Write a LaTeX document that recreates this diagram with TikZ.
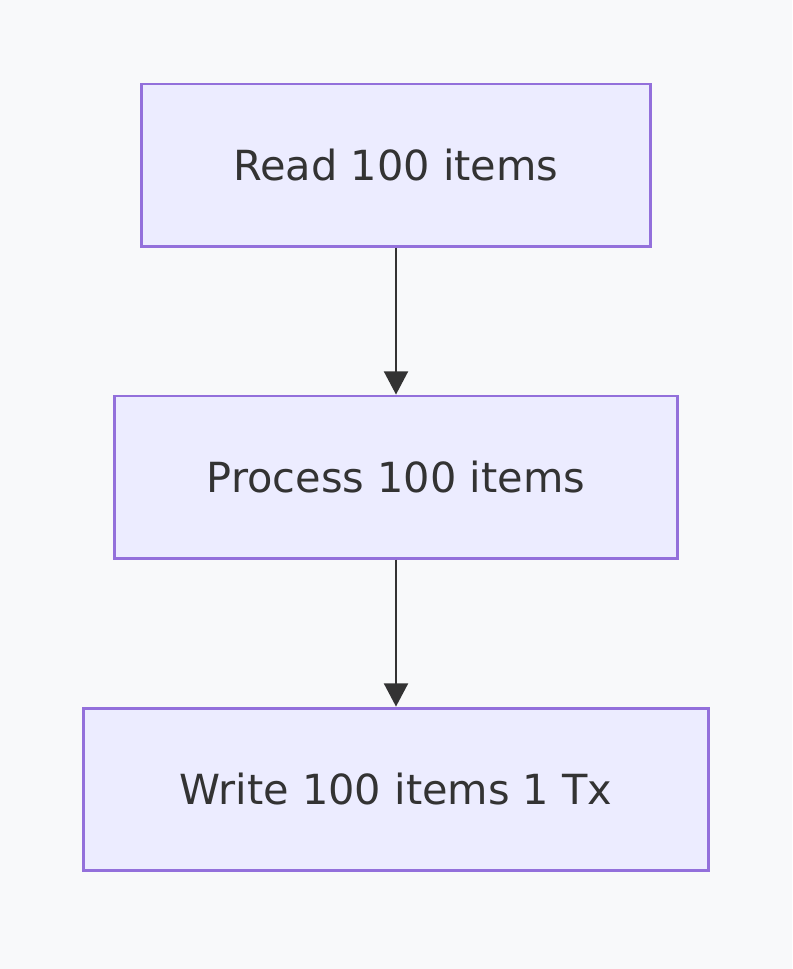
\documentclass[tikz,border=0pt]{standalone}
\usepackage{fontspec}
\setmainfont{DejaVu Sans}
\usetikzlibrary{positioning,arrows.meta}

\definecolor{pagebg}{HTML}{F8F9FA}
\definecolor{stepfill}{HTML}{ECECFF}
\definecolor{stepline}{HTML}{9370DB}
\definecolor{steptext}{HTML}{333333}

\tikzset{
  stepbox/.style={draw=stepline, fill=stepfill, line width=2.1pt,
    minimum height=4.05cm, text=steptext,
    font=\fontsize{29.5}{35}\selectfont},
  flow/.style={draw=steptext, line width=1.5pt,
    -{Triangle[length=0.58cm, width=0.6cm]}},
}

\begin{document}
\begin{tikzpicture}[x=0.025cm, y=-0.025cm, node distance=3.675cm]
  % page
  \fill[pagebg] (0,0) rectangle (792,969);
  \useasboundingbox (0,0) rectangle (792,969);

  \node[stepbox, minimum width=12.7cm] (read) at (396,165) {Read 100 items};
  \node[stepbox, minimum width=14.05cm, below=of read] (process) {Process 100 items};
  \node[stepbox, minimum width=15.62cm, below=of process] (write) {Write 100 items 1 Tx};

  \draw[flow] (read) -- (process);
  \draw[flow] (process) -- (write);
\end{tikzpicture}
\end{document}
